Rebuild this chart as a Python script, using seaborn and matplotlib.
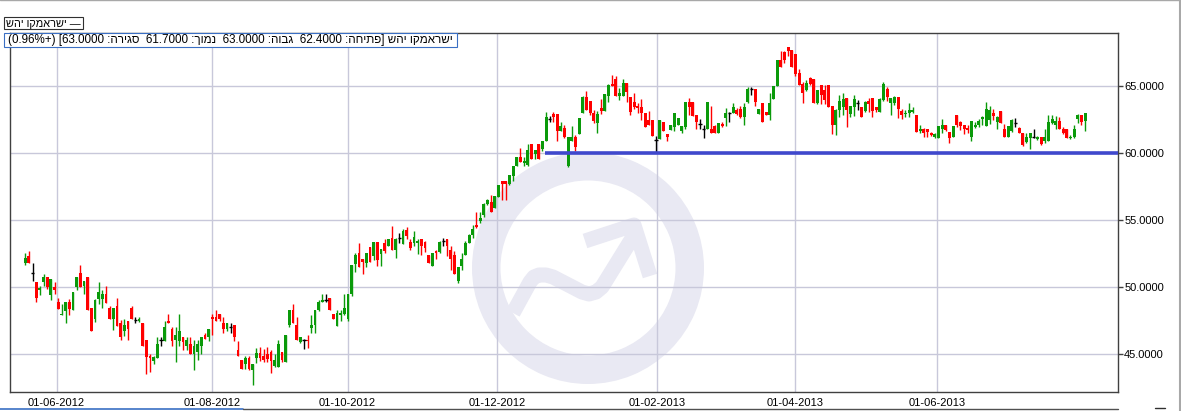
import numpy as np
import matplotlib
matplotlib.use("Agg")
import matplotlib.pyplot as plt
import seaborn as sns
from matplotlib.transforms import Affine2D
from matplotlib.patches import Annulus, Rectangle
from matplotlib.lines import Line2D
from matplotlib.ticker import FormatStrFormatter, FixedLocator

# ---------------- data (daily candles) ----------------
open_ = [51.75, 52.29, 51.00, 50.40, 49.75, 50.40, 50.70, 49.38, 50.02, 48.83,
         47.88, 48.18, 48.83, 48.30, 50.00, 51.00, 50.05, 50.77, 48.38, 47.63,
         49.10, 49.10, 49.50, 48.38, 47.63, 48.60, 47.33, 46.73, 47.48, 48.38,
         47.51, 47.43, 47.33, 45.99, 44.79, 44.44, 44.66, 45.99, 45.94, 47.48,
         46.88, 45.99, 45.94, 46.21, 45.54, 45.69, 44.94, 45.09, 45.61, 46.36,
         46.28, 47.78, 47.71, 48.00, 47.33, 46.88, 46.96, 47.11, 45.31, 44.49,
         44.19, 44.64, 43.77, 44.66, 45.06, 44.86, 45.01, 45.14, 44.06, 44.01,
         45.14, 44.39, 47.11, 48.30, 47.11, 45.86, 45.99, 45.99, 46.91, 47.11,
         48.30, 48.90, 48.98, 49.20, 48.00, 47.06, 47.86, 48.00, 47.63, 49.43,
         51.73, 52.50, 52.05, 51.80, 52.95, 52.30, 53.33, 52.43, 53.25, 53.03,
         53.63, 52.75, 53.68, 53.20, 54.23, 53.33, 53.25, 53.30, 53.55, 53.33,
         52.35, 51.55, 52.65, 52.60, 53.40, 53.55, 52.73, 52.35, 50.45, 51.55,
         52.38, 53.25, 53.85, 54.60, 54.90, 55.35, 56.20, 56.32, 55.90, 56.72,
         57.96, 57.96, 57.71, 58.33, 59.05, 59.70, 59.25, 59.13, 60.70, 59.95,
         60.67, 60.30, 60.92, 62.59, 62.94, 62.94, 61.69, 61.87, 59.05, 60.95,
         61.19, 61.44, 63.03, 64.18, 63.93, 62.99, 62.24, 63.36, 63.18, 64.28,
         65.22, 65.52, 64.28, 64.28, 65.27, 64.18, 63.86, 63.53, 63.48, 62.99,
         62.49, 62.49, 61.00, 61.04, 62.36, 61.44, 61.74, 61.99, 62.11, 61.69,
         61.99, 63.86, 63.86, 62.86, 62.19, 61.79, 61.79, 61.79, 62.04, 61.54,
         62.19, 62.61, 62.99, 62.99, 63.23, 63.28, 62.69, 63.86, 64.78, 64.78,
         62.94, 63.78, 63.11, 62.86, 64.03, 65.02, 67.01, 67.59, 67.96, 67.71,
         67.41, 65.97, 65.17, 64.73, 65.60, 65.52, 63.78, 65.10, 64.73, 65.10,
         63.53, 62.11, 63.23, 63.48, 64.10, 62.94, 63.43, 63.78, 63.48, 63.18,
         63.93, 64.10, 63.43, 63.11, 63.98, 64.78, 63.73, 63.73, 64.23, 63.18,
         62.94, 62.99, 63.11, 62.86, 61.69, 61.79, 61.84, 61.54, 61.19, 61.12,
         61.79, 62.11, 61.62, 61.24, 62.86, 62.36, 62.11, 61.87, 61.24, 61.99,
         62.11, 62.54, 62.04, 62.49, 63.03, 62.36, 63.18, 61.79, 61.19, 61.69,
         62.29, 61.87, 61.49, 60.87, 61.12, 61.19, 61.09, 61.19, 60.95, 60.95,
         62.29, 62.11, 62.44, 61.79, 61.79, 61.12, 61.19, 62.54, 62.86, 62.40]

high = [52.54, 52.72, 51.82, 50.40, 50.10, 50.97, 50.70, 50.62, 50.35, 49.20,
        48.68, 48.83, 49.10, 49.58, 50.70, 51.67, 50.47, 50.77, 48.38, 49.10,
        50.35, 49.80, 50.10, 48.60, 48.38, 49.13, 47.51, 47.56, 47.48, 48.55,
        47.78, 47.71, 47.33, 45.99, 45.01, 44.81, 46.28, 46.21, 47.48, 48.00,
        46.96, 46.96, 48.00, 46.21, 46.21, 46.28, 45.99, 45.99, 46.28, 46.51,
        46.88, 48.00, 48.30, 48.00, 47.71, 47.33, 47.33, 47.11, 45.91, 44.49,
        44.86, 44.81, 44.24, 45.41, 45.51, 45.36, 45.51, 45.31, 44.94, 45.99,
        45.14, 46.36, 48.30, 48.68, 47.71, 46.28, 46.13, 46.36, 47.86, 48.30,
        48.98, 49.43, 49.43, 49.20, 48.00, 48.30, 48.30, 49.43, 49.50, 51.60,
        52.55, 53.25, 52.05, 52.50, 52.95, 53.33, 53.33, 52.80, 53.55, 53.55,
        54.53, 53.68, 54.00, 54.30, 54.45, 53.55, 54.15, 53.55, 53.55, 53.40,
        52.35, 52.50, 52.73, 53.45, 53.63, 53.55, 53.03, 52.65, 51.48, 52.50,
        53.40, 53.93, 54.60, 55.60, 55.60, 56.30, 56.60, 56.89, 56.82, 57.64,
        57.96, 57.96, 58.38, 59.05, 59.70, 60.42, 59.70, 60.70, 60.70, 60.25,
        60.67, 60.92, 63.11, 62.79, 63.11, 62.94, 62.36, 62.11, 61.19, 62.04,
        61.37, 62.61, 64.28, 64.65, 63.93, 63.23, 63.18, 64.03, 64.43, 65.22,
        65.85, 65.77, 64.85, 65.52, 65.27, 64.18, 64.53, 63.73, 64.03, 62.99,
        63.13, 62.49, 61.29, 62.49, 62.36, 61.44, 62.11, 63.03, 62.66, 62.04,
        63.86, 64.10, 63.86, 62.86, 62.54, 62.11, 63.86, 63.53, 62.11, 62.24,
        62.36, 63.36, 63.11, 63.73, 63.36, 63.53, 63.73, 64.98, 64.98, 64.78,
        63.28, 63.78, 63.11, 64.48, 65.02, 66.97, 67.66, 67.66, 67.96, 67.71,
        67.41, 66.34, 65.35, 65.47, 65.72, 65.52, 64.73, 65.10, 65.10, 65.10,
        63.53, 63.28, 64.35, 64.48, 64.10, 63.53, 64.35, 63.98, 63.48, 63.93,
        64.10, 64.10, 63.43, 64.10, 65.35, 64.98, 64.10, 64.28, 64.23, 63.28,
        63.23, 63.78, 63.48, 62.86, 62.11, 61.87, 61.84, 61.62, 61.49, 62.04,
        62.54, 62.11, 61.62, 62.04, 62.86, 62.44, 62.11, 62.11, 62.44, 62.36,
        62.54, 62.79, 63.86, 63.53, 63.28, 62.79, 63.18, 62.19, 62.04, 62.54,
        62.61, 61.94, 61.49, 61.49, 61.54, 61.79, 61.29, 61.19, 61.79, 62.86,
        62.86, 62.79, 62.69, 61.94, 61.79, 61.37, 62.11, 62.94, 62.86, 63.00]

low = [51.62, 51.75, 50.42, 48.90, 49.38, 50.05, 49.85, 49.05, 49.43, 48.33,
       47.88, 47.33, 47.93, 48.25, 49.75, 49.98, 49.43, 48.25, 46.68, 47.36,
       48.75, 48.45, 48.78, 47.63, 46.76, 47.06, 46.01, 46.31, 46.01, 47.58,
       47.28, 47.38, 45.54, 43.44, 43.59, 44.26, 44.66, 45.54, 45.94, 47.26,
       45.61, 44.41, 45.61, 45.24, 45.31, 44.94, 43.74, 44.49, 45.01, 46.06,
       45.91, 46.43, 47.41, 47.41, 46.51, 46.73, 46.58, 45.91, 44.79, 43.82,
       43.82, 43.77, 42.64, 44.31, 44.44, 44.41, 44.41, 43.57, 43.99, 44.01,
       44.41, 44.39, 47.01, 47.26, 46.01, 45.81, 45.34, 45.39, 46.56, 46.51,
       48.23, 48.83, 48.90, 48.30, 47.63, 47.06, 47.48, 47.86, 47.48, 49.30,
       51.10, 51.48, 50.98, 51.50, 51.85, 52.00, 51.55, 51.55, 52.55, 53.03,
       52.75, 52.15, 53.25, 53.20, 53.55, 52.75, 53.05, 52.45, 52.38, 52.60,
       51.78, 51.55, 52.05, 52.55, 53.03, 52.30, 51.25, 50.98, 50.30, 51.25,
       52.35, 53.25, 53.68, 54.38, 54.75, 55.25, 56.10, 55.57, 55.90, 56.72,
       56.52, 56.47, 57.61, 57.96, 59.05, 59.38, 59.05, 59.05, 59.55, 59.55,
       59.55, 60.20, 60.92, 62.36, 62.36, 60.95, 61.69, 61.12, 59.00, 60.95,
       60.20, 61.44, 63.00, 63.23, 62.86, 62.29, 61.54, 62.94, 63.18, 63.86,
       65.02, 64.28, 63.98, 64.28, 63.86, 62.86, 63.28, 63.03, 62.49, 61.99,
       62.11, 61.29, 60.12, 61.04, 61.69, 60.95, 61.74, 61.69, 62.11, 61.54,
       61.79, 62.86, 62.79, 61.79, 61.79, 61.12, 61.79, 61.54, 61.54, 61.54,
       61.94, 62.04, 62.36, 62.99, 62.86, 62.61, 62.11, 63.73, 64.35, 63.53,
       62.94, 62.36, 62.86, 62.49, 64.03, 65.02, 66.42, 66.72, 67.26, 66.47,
       65.77, 65.10, 63.73, 64.68, 65.10, 63.73, 63.68, 63.68, 63.68, 63.48,
       61.44, 61.37, 62.69, 62.86, 61.99, 62.69, 62.79, 63.23, 62.69, 63.11,
       63.11, 62.69, 63.11, 63.11, 63.93, 63.93, 62.86, 63.60, 62.61, 62.54,
       62.74, 62.69, 62.99, 61.62, 61.49, 61.24, 61.19, 61.29, 61.12, 61.12,
       61.54, 61.69, 60.80, 61.24, 61.99, 61.74, 61.44, 61.49, 60.95, 61.87,
       61.99, 62.11, 62.04, 62.19, 62.49, 61.79, 62.29, 61.19, 61.19, 61.62,
       61.99, 61.54, 60.55, 60.80, 60.30, 61.12, 61.00, 60.62, 60.80, 60.95,
       62.19, 61.79, 61.79, 61.44, 61.12, 61.04, 61.12, 62.29, 62.11, 61.70]

close = [52.19, 51.75, 51.00, 49.13, 49.90, 50.70, 49.98, 50.62, 49.73, 48.33,
         48.00, 48.83, 48.33, 49.58, 50.70, 49.98, 50.47, 48.25, 46.68, 48.98,
         49.58, 49.50, 48.78, 47.63, 48.38, 47.06, 46.28, 47.18, 46.83, 47.58,
         47.51, 47.63, 45.54, 44.74, 44.64, 44.74, 45.74, 45.99, 46.96, 47.33,
         45.94, 46.36, 46.66, 45.86, 45.99, 44.94, 45.61, 45.69, 46.28, 46.13,
         46.81, 47.63, 47.41, 47.56, 46.88, 47.33, 46.96, 46.21, 44.79, 43.82,
         44.71, 43.82, 44.24, 45.06, 44.69, 44.51, 44.61, 44.44, 44.49, 45.69,
         44.51, 46.36, 48.30, 47.31, 46.01, 46.21, 45.99, 45.91, 47.18, 48.30,
         48.85, 48.98, 48.98, 48.30, 47.63, 48.08, 48.08, 48.38, 49.50, 51.60,
         52.35, 51.48, 51.85, 52.50, 51.85, 53.33, 52.00, 52.80, 52.68, 53.55,
         52.75, 53.55, 53.68, 54.15, 53.80, 52.88, 53.70, 53.40, 53.03, 52.88,
         51.78, 52.50, 52.50, 53.33, 53.40, 53.03, 52.05, 50.98, 51.48, 52.05,
         53.25, 53.85, 54.30, 54.45, 55.13, 56.18, 56.48, 55.57, 56.82, 57.64,
         57.71, 57.71, 58.38, 59.05, 59.70, 59.38, 59.45, 60.25, 59.55, 60.25,
         59.55, 60.92, 62.69, 62.59, 62.69, 61.69, 62.04, 61.19, 61.19, 61.19,
         60.50, 62.61, 64.18, 63.23, 63.03, 62.44, 62.94, 63.18, 64.43, 65.10,
         65.02, 64.28, 64.53, 65.27, 64.60, 63.11, 63.48, 63.36, 62.99, 61.99,
         62.11, 61.29, 61.00, 62.49, 61.69, 61.24, 62.11, 63.03, 62.66, 62.04,
         63.86, 63.48, 62.79, 62.36, 62.19, 61.79, 63.86, 61.54, 61.54, 62.24,
         62.04, 62.99, 62.99, 63.48, 62.94, 62.69, 63.48, 64.78, 64.78, 63.86,
         63.28, 62.36, 62.86, 63.78, 65.02, 66.97, 66.42, 67.01, 67.66, 66.47,
         65.92, 65.10, 64.48, 65.27, 65.17, 63.78, 64.73, 64.35, 63.98, 63.48,
         62.11, 63.23, 63.93, 64.03, 63.23, 63.53, 64.03, 63.78, 62.69, 63.86,
         63.68, 63.18, 63.23, 64.03, 65.22, 64.18, 64.10, 64.23, 63.28, 62.86,
         63.03, 63.23, 63.23, 61.62, 61.84, 61.54, 61.62, 61.37, 61.44, 62.04,
         62.11, 61.74, 61.12, 62.04, 62.11, 62.04, 61.79, 61.74, 62.44, 62.11,
         62.44, 62.69, 63.28, 63.23, 62.79, 62.69, 62.29, 61.24, 62.04, 62.49,
         62.29, 61.54, 60.62, 61.19, 61.54, 61.19, 61.24, 60.70, 61.19, 62.36,
         62.54, 62.44, 61.79, 61.54, 61.12, 61.24, 61.79, 62.86, 62.36, 63.00]

tick_labels = ["01-06-2012", "01-08-2012", "01-10-2012", "01-12-2012",
               "01-02-2013", "01-04-2013", "01-06-2013"]
y_ticks = [45, 50, 55, 60, 65]
support_level = 60.0
series_name = "ישראמקו יהש"
info_text = "ישראמקו יהש [פתיחה: 62.4000  גבוה: 63.0000  נמוך: 61.7000  סגירה: 63.0000] (+0.96%)"

# ---------------- layout constants ----------------
W, H, DPI = 1181, 411, 100
tick_pos = [8.56, 51.0, 87.9, 128.7, 172.35, 209.8, 248.7]
support_start = 141.7
X_LIM = (-4.17, 297.96)
Y_LIM = (42.13, 69.0)

GREEN = "#0a9a0a"
RED = "#ff0000"
GRID = "#c8c8da"
SPINE = "#404040"
WM = "#e9e9f3"
FONT = ["Liberation Sans", "DejaVu Sans"]


def visual(s):
    """Logical RTL text -> visual order for left-to-right rendering."""
    runs = []
    i = 0

    def is_ltr(c):
        return c.isdigit() or c in ".%" or (c.isascii() and c.isalpha())

    while i < len(s):
        if is_ltr(s[i]):
            j = i
            while j < len(s) and is_ltr(s[j]):
                j += 1
            runs.append(s[i:j])
            i = j
        else:
            runs.append(s[i])
            i += 1
    mirror = {"(": ")", ")": "(", "[": "]", "]": "["}
    return "".join(mirror.get(r, r) for r in reversed(runs))


sns.set_theme(style="white")
plt.rcParams["font.family"] = FONT

fig = plt.figure(figsize=(W / DPI, H / DPI), dpi=DPI)
fig.patch.set_facecolor("white")
PX = Affine2D().scale(1 / DPI, -1 / DPI).translate(0, H / DPI) + fig.dpi_scale_trans

ax = fig.add_axes([10 / W, 1 - 392 / H, 1108 / W, 359 / H])
ax.set_facecolor("white")

df_o = np.array(open_)
df_h = np.array(high)
df_l = np.array(low)
df_c = np.array(close)
x = np.arange(len(df_o))
colors = np.where(df_c > df_o, GREEN, np.where(df_c < df_o, RED, "black"))

# watermark (logo)
ring = Annulus((588, 268), 116, 28.5, transform=PX, facecolor=WM,
               edgecolor="none", zorder=0.2)
ax.add_patch(ring)
wm_kw = dict(transform=PX, color=WM, lw=10.8, zorder=0.2,
             solid_joinstyle="round", solid_capstyle="butt")
ax.add_line(Line2D([513, 530, 534, 539, 546, 553, 582, 589, 596, 602, 636],
                   [313, 282, 277, 275, 275, 277, 292, 294, 292, 287, 232], **wm_kw))
ax.add_line(Line2D([585, 634, 650], [241, 225, 276], **wm_kw))

# candles
ax.vlines(x, df_l, df_h, colors=colors, lw=1.0, zorder=2)
body_bottom = np.minimum(df_o, df_c)
body_h = np.abs(df_c - df_o)
is_body = body_h > 0
ax.bar(x[is_body], np.maximum(body_h[is_body], 0.07), bottom=body_bottom[is_body],
       width=0.8, color=colors[is_body], linewidth=0, zorder=3)
doji = ~is_body
ax.hlines(df_o[doji], x[doji] - 0.45, x[doji] + 0.45, colors="black", lw=1.0, zorder=3)

# support line
ax.hlines(support_level, support_start, X_LIM[1], colors="#3f48cc", lw=2.6, zorder=4)

ax.set_xlim(*X_LIM)
ax.set_ylim(*Y_LIM)
ax.xaxis.set_major_locator(FixedLocator(tick_pos))
ax.set_xticklabels(tick_labels)
ax.set_yticks(y_ticks)
ax.yaxis.set_major_formatter(FormatStrFormatter("%.4f"))
ax.yaxis.tick_right()
ax.tick_params(axis="y", direction="out", length=3.5, width=1, color=SPINE,
               labelsize=8, pad=1, labelcolor="black", right=True, left=False)
ax.tick_params(axis="x", length=0, labelsize=8, pad=4, labelcolor="black")
ax.grid(True, color=GRID, lw=1)
ax.set_axisbelow(True)
for sp in ax.spines.values():
    sp.set_visible(True)
    sp.set_color(SPINE)
    sp.set_linewidth(1)

# frame decorations
fig.add_artist(Line2D([0, W], [0.5, 0.5], transform=PX, color="#a8a8a8", lw=1))
fig.add_artist(Line2D([1179.5, 1179.5], [0, H], transform=PX, color="#a8a8a8", lw=1.5))
fig.add_artist(Line2D([0, 243], [409.5, 409.5], transform=PX, color="#3a6fc4", lw=1.2))
fig.add_artist(Line2D([243, 1118], [409.5, 409.5], transform=PX, color="#505050", lw=1.0))
fig.add_artist(Line2D([1155, 1165], [408.5, 408.5], transform=PX, color="#303030", lw=1.0))

# legend box
fig.add_artist(Rectangle((3.5, 17.5), 79, 12, transform=PX, facecolor="white",
                         edgecolor="#303030", lw=0.8, zorder=5))
fig.text(6, 23.8, visual("— " + series_name), transform=PX, fontsize=7.8,
         va="center", ha="left", color="black", zorder=6)

# info box
fig.add_artist(Rectangle((3.5, 33), 453, 14, transform=PX, facecolor="white",
                         edgecolor="#3a6fc4", lw=0.8, zorder=5))
fig.text(7.5, 40.3, visual(info_text), transform=PX, fontsize=8.4,
         va="center", ha="left", color="black", zorder=6)

fig.savefig("out.png", dpi=DPI)
